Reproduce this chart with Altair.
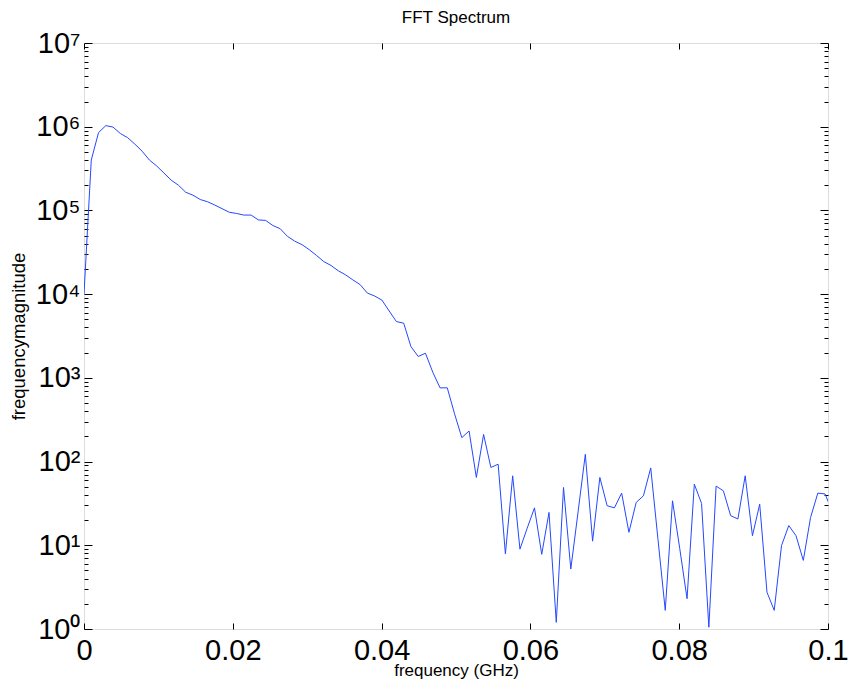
import altair as alt
import pandas as pd

# FFT bins: k / 1024 GHz
n_bins = 104
bin_width = 1.0 / 1024.0
freq = [k * bin_width for k in range(n_bins)]

magnitude = [
    1.0e4, 4.0e5, 8.5e5, 1.03e6, 9.9e5, 8.3e5, 7.4e5, 6.2e5, 5.1e5, 4.0e5,
    3.4e5, 2.8e5, 2.3e5, 2.0e5, 1.65e5, 1.52e5, 1.35e5, 1.27e5, 1.16e5, 1.05e5,
    9.5e4, 9.2e4, 8.8e4, 8.8e4, 7.7e4, 7.6e4, 6.6e4, 6.05e4, 4.9e4, 4.3e4,
    3.9e4, 3.4e4, 2.9e4, 2.45e4, 2.2e4, 1.9e4, 1.7e4, 1.48e4, 1.3e4, 1.03e4,
    9.5e3, 8.5e3, 6.3e3, 4.7e3, 4.5e3, 2.36e3, 1.8e3, 1.97e3, 1.17e3, 760,
    760, 372, 193, 232, 64.6, 211, 85, 93, 7.9, 67.6,
    9.0, 16, 28, 7.8, 24.7, 1.2, 49, 5.2, 25, 122,
    11.2, 64.6, 29.7, 28, 42, 14.3, 32.5, 39, 84, 11.8,
    1.67, 34, 9.1, 2.3, 53.7, 31.6, 1.05, 51, 44.7, 22.6,
    20.6, 67.6, 13, 31, 2.75, 1.67, 9.9, 17.2, 13, 6.6,
    21.5, 42, 41, 25,
]

x_ticks = [0, 0.02, 0.04, 0.06, 0.08, 0.1]
x_labels = ["0", "0.02", "0.04", "0.06", "0.08", "0.1"]
y_major = [1, 10, 100, 1e3, 1e4, 1e5, 1e6, 1e7]
y_labels = ["10⁰", "10¹", "10²", "10³", "10⁴", "10⁵", "10⁶", "10⁷"]
y_minor = [m * d for d in [1, 10, 100, 1e3, 1e4, 1e5, 1e6] for m in range(2, 10)]

df = pd.DataFrame({"freq": freq, "mag": magnitude})

W = 744
H = 586

x_scale = alt.Scale(domain=[0, 0.1], nice=False, zero=False)
y_scale = alt.Scale(type="log", domain=[1, 1e7], nice=False)

x_label_expr = "[" + ",".join(f"'{s}'" for s in x_labels) + "][round(datum.value / 0.02)]"
y_label_expr = "[" + ",".join(f"'{s}'" for s in y_labels) + "][round(log(datum.value) / LN10)]"

base = alt.Chart(df)

main = base.mark_line(color="#2448ff", strokeWidth=1, clip=True).encode(
    x=alt.X(
        "freq:Q",
        scale=x_scale,
        axis=alt.Axis(
            orient="bottom", values=x_ticks, labelExpr=x_label_expr,
            ticks=False, domain=False, grid=False,
            labelFont="Liberation Sans", labelFontSize=29, labelColor="black",
            labelPadding=7, labelFlush=False, labelOverlap=False,
            title="frequency (GHz)", titleFont="Liberation Sans", titleFontSize=17,
            titleFontWeight="normal", titleColor="black",
            titleBaseline="alphabetic", titleY=46,
        ),
    ),
    y=alt.Y(
        "mag:Q",
        scale=y_scale,
        axis=alt.Axis(
            orient="left", values=y_major, labelExpr=y_label_expr,
            ticks=False, domain=False, grid=False,
            labelFont="Liberation Sans", labelFontSize=29, labelColor="black",
            labelPadding=4, labelFlush=False, labelOverlap=False,
            title="frequencymagnitude", titleFont="Liberation Sans", titleFontSize=18.5,
            titleFontWeight="normal", titleColor="black",
            titleX=-66, titleY=H / 2, titleAngle=-90, titleBaseline="middle", titleAlign="center",
        ),
    ),
)


def y_tick_layer(orient, values, size):
    return base.mark_line(strokeOpacity=0).encode(
        x=alt.X("freq:Q", scale=x_scale, axis=None),
        y=alt.Y(
            "mag:Q", scale=y_scale,
            axis=alt.Axis(orient=orient, offset=-W, values=values, labels=False,
                          domain=False, grid=False, tickSize=size, tickColor="black",
                          tickWidth=1, title=None),
        ),
    )


def x_tick_layer(orient, values, size):
    return base.mark_line(strokeOpacity=0).encode(
        x=alt.X(
            "freq:Q", scale=x_scale,
            axis=alt.Axis(orient=orient, offset=-H, values=values, labels=False,
                          domain=False, grid=False, tickSize=size, tickColor="black",
                          tickWidth=1, title=None),
        ),
        y=alt.Y("mag:Q", scale=y_scale, axis=None),
    )


chart = alt.layer(
    main,
    y_tick_layer("right", y_major, 8),
    y_tick_layer("right", y_minor, 4),
    y_tick_layer("left", y_major, 8),
    y_tick_layer("left", y_minor, 4),
    x_tick_layer("top", x_ticks, 6),
    x_tick_layer("bottom", x_ticks, 6),
).resolve_axis(x="independent", y="independent").properties(
    width=W,
    height=H,
    autosize=alt.AutoSizeParams(type="none"),
    padding={"left": 84, "top": 43, "right": 20, "bottom": 54},
    title=alt.TitleParams(
        "FFT Spectrum", font="Liberation Sans", fontSize=17, fontWeight="normal",
        color="black", anchor="middle", baseline="alphabetic", offset=6, dy=17,
    ),
).configure_view(stroke="black", strokeWidth=1.5).configure(background="white")

chart.save("out.html", embed_options={"renderer": "svg", "actions": False})
